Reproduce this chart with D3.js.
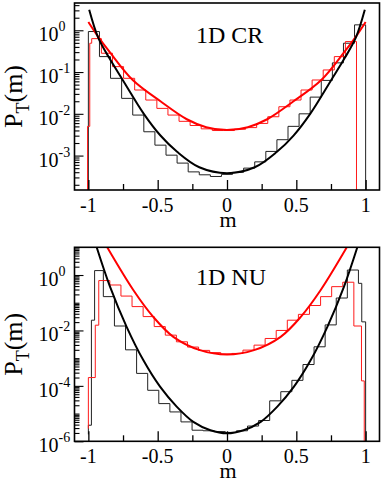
<!DOCTYPE html>
<html><head><meta charset="utf-8">
<script src="https://cdn.jsdelivr.net/npm/d3@7"></script>
<style>
body{margin:0;background:#fff}
svg{display:block}
</style>
</head><body>
<svg id="c" width="382" height="482" font-family="'Liberation Serif', 'DejaVu Serif', serif"></svg>
<script>
// ---------- shared axis data ----------
const mDomain = [-1.1, 1.1];
const mTicks = [-1, -0.5, 0, 0.5, 1];
const mTickLabels = ["-1", "-0.5", "0", "0.5", "1"];
const mMinorTicks = [-0.75, -0.25, 0.25, 0.75];
const xTitle = "m";

// ---------- panel 1 : 1D CR ----------
const crTitle = "1D CR";
const crYDomain = [1.5e-4, 4.5];
const crYTickExp = [0, -1, -2, -3];
// histograms: bin edges (m) and log10 P per bin
const crBlackEdges = [-1,-0.92,-0.84,-0.76,-0.68,-0.6,-0.52,-0.44,-0.36,-0.28,-0.2,-0.12,-0.04,0.04,0.12,0.2,0.28,0.36,0.44,0.52,0.6,0.68,0.76,0.84,0.92,1];
const crBlackExp = [-0.03,-0.63,-1.15,-1.63,-2.03,-2.43,-2.75,-2.99,-3.18,-3.39,-3.46,-3.5,-3.45,-3.4,-3.3,-3.15,-2.9,-2.62,-2.3,-2.0,-1.6,-1.2,-0.78,-0.31,0.13];
const crBlackStartExp = null;
const crRedEdges = [-1.006,-0.99,-0.976,-0.906,-0.826,-0.746,-0.666,-0.586,-0.506,-0.426,-0.346,-0.266,-0.186,-0.106,-0.026,0.054,0.134,0.214,0.294,0.374,0.454,0.534,0.614,0.694,0.774,0.854,0.934];
const crRedExp = [-2.3,-0.31,-0.2,-0.55,-0.87,-1.15,-1.43,-1.67,-1.87,-2.03,-2.18,-2.28,-2.36,-2.4,-2.4,-2.37,-2.33,-2.23,-2.07,-1.83,-1.67,-1.43,-1.19,-0.95,-0.63,-0.27];
const crRedStartExp = null;
// smooth curves: m and log10 P
const crBlackCurveM = [-0.994,-0.93,-0.85,-0.75,-0.6,-0.48,-0.36,-0.2,0,0.2,0.36,0.48,0.6,0.75,0.85,0.93,0.994];
const crBlackCurveExp = [0.49,-0.17,-0.66,-1.2,-2.0,-2.52,-2.91,-3.28,-3.42,-3.28,-2.91,-2.52,-2.0,-1.2,-0.66,-0.17,0.49];
const crRedCurveM = [-1.0,-0.93,-0.844,-0.68,-0.48,-0.29,-0.15,0,0.15,0.29,0.48,0.68,0.844,0.93,1.0];
const crRedCurveExp = [0.2,-0.15,-0.53,-1.19,-1.7,-2.13,-2.32,-2.39,-2.32,-2.13,-1.7,-1.19,-0.53,-0.15,0.2];

// ---------- panel 2 : 1D NU ----------
const nuTitle = "1D NU";
const nuYDomain = [1e-6, 10];
const nuYTickExp = [0, -2, -4, -6];
const nuBlackEdges = [-1.0,-0.978,-0.955,-0.892,-0.812,-0.732,-0.652,-0.572,-0.492,-0.412,-0.332,-0.252,-0.172,-0.092,-0.012,0.068,0.148,0.228,0.308,0.388,0.468,0.548,0.628,0.708,0.788,0.868,0.948,0.972,1.0];
const nuBlackExp = [-5.42,-1.63,0.16,-0.78,-1.84,-2.7,-3.55,-4.16,-4.64,-4.94,-5.30,-5.60,-5.62,-5.65,-5.68,-5.62,-5.45,-5.25,-4.54,-4.21,-3.8,-3.23,-2.59,-1.8,-0.83,0.18,-0.3,-1.69];
const nuBlackStartExp = -5.75;
const nuRedEdges = [-1.0,-0.95,-0.925,-0.845,-0.765,-0.685,-0.605,-0.525,-0.445,-0.365,-0.285,-0.205,-0.125,-0.045,0.035,0.115,0.195,0.275,0.355,0.435,0.515,0.595,0.675,0.755,0.835,0.915,0.97,0.99];
const nuRedExp = [-3.7,-1.81,-0.2,-0.36,-0.76,-1.14,-1.5,-1.86,-2.17,-2.41,-2.6,-2.72,-2.8,-2.85,-2.83,-2.71,-2.53,-2.29,-2.0,-1.63,-1.42,-1.1,-0.78,-0.42,-0.26,-1.84,-3.82];
const nuRedStartExp = -5.54;
const nuBlackCurveM = [-0.94,-0.844,-0.724,-0.604,-0.483,-0.363,-0.243,-0.12,0,0.12,0.243,0.363,0.483,0.604,0.724,0.844,0.94];
const nuBlackCurveExp = [1.0,-0.42,-1.87,-3.07,-4.03,-4.75,-5.30,-5.6,-5.71,-5.6,-5.30,-4.75,-4.03,-3.07,-1.87,-0.42,1.0];
const nuRedCurveM = [-0.864,-0.676,-0.532,-0.387,-0.195,0,0.195,0.387,0.532,0.676,0.864];
const nuRedCurveExp = [1.0,-0.54,-1.51,-2.23,-2.71,-2.87,-2.71,-2.23,-1.51,-0.54,1.0];

// ---------- layout ----------
const L = 74.5, R = 379.5;
const svg = d3.select("#c");

function drawPanel(cfg) {
  const x = d3.scaleLinear().domain(mDomain).range([L, R]);
  const y = d3.scaleLog().domain(cfg.yDomain).range([cfg.bottom, cfg.top]);
  const clipId = "clip-" + cfg.key;
  svg.append("clipPath").attr("id", clipId).append("rect")
    .attr("x", L).attr("y", cfg.top).attr("width", R - L).attr("height", cfg.bottom - cfg.top);
  const plot = svg.append("g").attr("clip-path", `url(#${clipId})`);

  const floor = cfg.yDomain[0] / 10;
  function stepPoints(edges, exps, startExp) {
    const pts = [[edges[0], startExp == null ? floor : Math.pow(10, startExp)]];
    exps.forEach((e, i) => { pts.push([edges[i], Math.pow(10, e)]); pts.push([edges[i + 1], Math.pow(10, e)]); });
    pts.push([edges[edges.length - 1], floor]);
    return pts;
  }
  const line = d3.line().x(d => x(d[0])).y(d => y(d[1]));
  const smooth = d3.line().x(d => x(d[0])).y(d => y(d[1])).curve(d3.curveCatmullRom.alpha(0.5));

  plot.append("path").attr("d", line(stepPoints(cfg.blackEdges, cfg.blackExp, cfg.blackStart)))
    .attr("fill", "none").attr("stroke", "#222").attr("stroke-width", 1);
  plot.append("path").attr("d", line(stepPoints(cfg.redEdges, cfg.redExp, cfg.redStart)))
    .attr("fill", "none").attr("stroke", "#ff1a1a").attr("stroke-width", 1);
  plot.append("path").attr("d", smooth(cfg.redCurveM.map((m, i) => [m, Math.pow(10, cfg.redCurveExp[i])])))
    .attr("fill", "none").attr("stroke", "#ff0000").attr("stroke-width", 2);
  plot.append("path").attr("d", smooth(cfg.blackCurveM.map((m, i) => [m, Math.pow(10, cfg.blackCurveExp[i])])))
    .attr("fill", "none").attr("stroke", "#000").attr("stroke-width", 2);

  // axes (ticks pointing inward)
  const gx = svg.append("g").attr("transform", `translate(0,${cfg.bottom})`);
  gx.call(d3.axisBottom(x).tickValues(mTicks).tickSize(-10).tickFormat(""));
  gx.append("g").call(d3.axisBottom(x).tickValues(mMinorTicks).tickSize(-6).tickFormat(""));
  gx.selectAll(".domain").remove();
  gx.selectAll("line").attr("stroke", "#000").attr("stroke-width", 1.3);

  const majorVals = cfg.yTickExp.map(e => Math.pow(10, e));
  const minorVals = y.ticks().filter(v => {
    const lg = Math.log10(v);
    return Math.abs(lg - Math.round(lg)) > 1e-6 || !cfg.yTickExp.includes(Math.round(lg));
  });
  const gy = svg.append("g").attr("transform", `translate(${L},0)`);
  gy.call(d3.axisLeft(y).tickValues(majorVals).tickSize(-9).tickFormat(""));
  gy.append("g").call(d3.axisLeft(y).tickValues(minorVals).tickSize(-5).tickFormat(""));
  gy.selectAll(".domain").remove();
  gy.selectAll("line").attr("stroke", "#000").attr("stroke-width", 1.1);

  // frame
  svg.append("rect").attr("x", L).attr("y", cfg.top).attr("width", R - L).attr("height", cfg.bottom - cfg.top)
    .attr("fill", "none").attr("stroke", "#000").attr("stroke-width", 1.6);

  const ff = "'Liberation Serif', 'DejaVu Serif', serif";
  // x tick labels
  svg.append("g").selectAll("text").data(mTicks).join("text")
    .attr("font-family", ff)
    .attr("x", d => x(d)).attr("y", cfg.bottom + 22).attr("text-anchor", "middle")
    .attr("font-size", 20).text((d, i) => mTickLabels[i]);
  svg.append("text").attr("font-family", ff).attr("x", x(0) + 1).attr("y", cfg.bottom + 36.5).attr("text-anchor", "middle")
    .attr("font-size", 22).text(xTitle);

  // y tick labels 10^n
  const yl = svg.append("g").selectAll("text").data(cfg.yTickExp).join("text")
    .attr("font-family", ff)
    .attr("x", 38.5).attr("y", d => y(Math.pow(10, d)) + 11).attr("font-size", 20);
  yl.append("tspan").text("10");
  yl.append("tspan").attr("font-size", 14).attr("dy", -10).text(d => d === 0 ? "0" : String(d));

  // y title
  const cy = (cfg.top + cfg.bottom) / 2;
  const yt = svg.append("text").attr("font-family", ff).attr("transform", `translate(21.5,${cy}) rotate(-90)`)
    .attr("text-anchor", "middle").attr("font-size", 26);
  yt.append("tspan").text("P");
  yt.append("tspan").attr("font-size", 18).attr("dy", 7).text("T");
  yt.append("tspan").attr("dy", -7).text("(m)");

  // panel label
  svg.append("text").attr("font-family", ff).attr("x", 196).attr("y", cfg.labelY).attr("font-size", 24).text(cfg.title);
}

drawPanel({key: "cr", title: crTitle, top: 3, bottom: 190, labelY: 43, yDomain: crYDomain, yTickExp: crYTickExp,
  blackEdges: crBlackEdges, blackExp: crBlackExp, blackStart: crBlackStartExp,
  redEdges: crRedEdges, redExp: crRedExp, redStart: crRedStartExp,
  blackCurveM: crBlackCurveM, blackCurveExp: crBlackCurveExp, redCurveM: crRedCurveM, redCurveExp: crRedCurveExp});
drawPanel({key: "nu", title: nuTitle, top: 247.3, bottom: 441.3, labelY: 285, yDomain: nuYDomain, yTickExp: nuYTickExp,
  blackEdges: nuBlackEdges, blackExp: nuBlackExp, blackStart: nuBlackStartExp,
  redEdges: nuRedEdges, redExp: nuRedExp, redStart: nuRedStartExp,
  blackCurveM: nuBlackCurveM, blackCurveExp: nuBlackCurveExp, redCurveM: nuRedCurveM, redCurveExp: nuRedCurveExp});
</script>
</body></html>
